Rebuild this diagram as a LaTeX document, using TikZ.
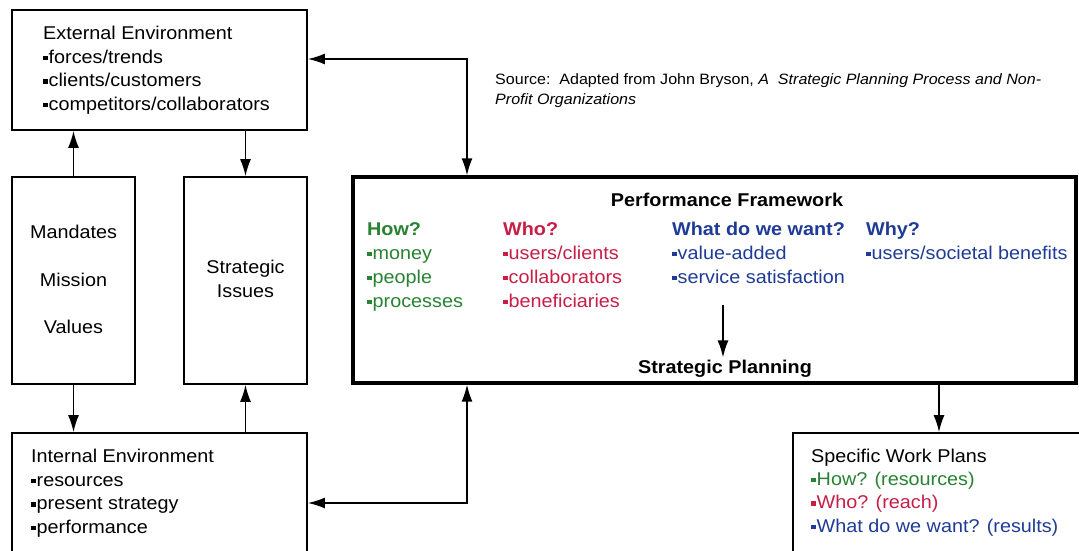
\documentclass[tikz,border=0pt]{standalone}
\usepackage{fontspec}
\setmainfont{Liberation Sans}[FakeStretch=1.07]
\usetikzlibrary{arrows.meta}
\definecolor{cgreen}{RGB}{40,130,50}
\definecolor{cred}{RGB}{200,30,70}
\definecolor{cblue}{RGB}{30,60,150}
\newcommand{\bul}{\rule[3pt]{4.5pt}{4.5pt}\hspace{1pt}}
\begin{document}
\begin{tikzpicture}[x=1pt,y=-1pt,
  box/.style={draw, line width=1.8pt, inner sep=0pt},
  bigbox/.style={draw, line width=3.4pt, inner sep=0pt},
  tip/.tip={Latex[length=17pt,width=11pt]},
  arr/.style={-tip, line width=1.5pt},
  arrb/.style={tip-tip, line width=1.5pt},
  t/.style={anchor=base west, inner sep=0pt, font=\fontsize{18.5}{22}\selectfont},
  tc/.style={t, anchor=base},
  tb/.style={t, font=\fontsize{18.5}{22}\selectfont\bfseries},
  tbc/.style={tb, anchor=base},
  src/.style={anchor=base west, inner sep=0pt, font=\fontsize{15}{18}\selectfont}]
\useasboundingbox (0,0) rectangle (1079,550);
\fill[white] (0,0) rectangle (1079,550);
\begin{scope}
\clip (0,0) rectangle (1079,550);
% boxes
\node[box, minimum width=295pt, minimum height=120pt] (ext) at (159.5,70) {};
\node[box, minimum width=123pt, minimum height=207pt] (mand) at (73.5,280.5) {};
\node[box, minimum width=123pt, minimum height=207pt] (si) at (245.5,280.5) {};
\node[box, minimum width=295pt, minimum height=187pt] (int) at (159.5,526.5) {};
\node[bigbox, minimum width=723pt, minimum height=206pt] (pf) at (714.5,280) {};
\node[box, minimum width=317pt, minimum height=187pt] (swp) at (951.5,526.5) {};

% External Environment
\node[t] (e1) at (43,39) {External Environment};
\node[t] (e2) at (43,63) {\bul forces/trends};
\node[t] (e3) at (43,86.5) {\bul clients/customers};
\node[t] (e4) at (43,110) {\bul competitors/collaborators};

% Mandates
\node[tc] (m1) at (73.5,238) {Mandates};
\node[tc] (m2) at (73.5,286) {Mission};
\node[tc] (m3) at (73.5,333) {Values};

% Strategic Issues
\node[tc] (s1) at (245.5,273) {Strategic};
\node[tc] (s2) at (245.5,297) {Issues};

% Internal Environment
\node[t] (i1) at (31,462) {Internal Environment};
\node[t] (i2) at (31,486) {\bul resources};
\node[t] (i3) at (31,509.5) {\bul present strategy};
\node[t] (i4) at (31,533) {\bul performance};

% Source
\node[src] (src1) at (495,84) {Source:\ \ Adapted from John Bryson, \textit{A\ \ Strategic Planning Process and Non-}};
\node[src] (src2) at (495,104) {\textit{Profit Organizations}};

% Performance Framework
\node[tbc] (pft) at (727,206) {Performance Framework};
\node[tb, text=cgreen] (h0) at (367,235) {How?};
\node[t, text=cgreen] (h1) at (367,259) {\bul money};
\node[t, text=cgreen] (h2) at (367,283) {\bul people};
\node[t, text=cgreen] (h3) at (367,307) {\bul processes};
\node[tb, text=cred] (w0) at (503,235) {Who?};
\node[t, text=cred] (w1) at (503,259) {\bul users/clients};
\node[t, text=cred] (w2) at (503,283) {\bul collaborators};
\node[t, text=cred] (w3) at (503,307) {\bul beneficiaries};
\node[tb, text=cblue] (q0) at (672,235) {What do we want?};
\node[t, text=cblue] (q1) at (672,259) {\bul value-added};
\node[t, text=cblue] (q2) at (672,283) {\bul service satisfaction};
\node[tb, text=cblue] (y0) at (866,235) {Why?};
\node[t, text=cblue] (y1) at (866,259) {\bul users/societal benefits};
\node[tbc, inner sep=2pt] (sp) at (725,373) {Strategic Planning};

% Specific Work Plans
\node[t] (p1) at (811,462) {Specific Work Plans};
\node[t, text=cgreen] (p2) at (811,485) {\bul How? (resources)};
\node[t, text=cred] (p3) at (811,508.5) {\bul Who? (reach)};
\node[t, text=cblue] (p4) at (811,532) {\bul What do we want? (results)};

% connectors
\coordinate (c1) at (467,59);
\coordinate (c2) at (467,503);
\coordinate (c3) at (939,0);
\coordinate (c4) at (723,305);
\draw[arr] (mand.north) -- (mand.north |- ext.south);
\draw[arr] (si.north |- ext.south) -- (si.north);
\draw[arr] (mand.south) -- (mand.south |- int.north);
\draw[arr] (si.south |- int.north) -- (si.south);
\draw[arrb] (ext.east |- c1) -- (c1) -- (c1 |- pf.north);
\draw[arrb] (int.east |- c2) -- (c2) -- (c2 |- pf.south);
\draw[arr] (c3 |- pf.south) -- (c3 |- swp.north);
\draw[arr] (c4) -- (c4 |- sp.north);
\end{scope}
\end{tikzpicture}
\end{document}
